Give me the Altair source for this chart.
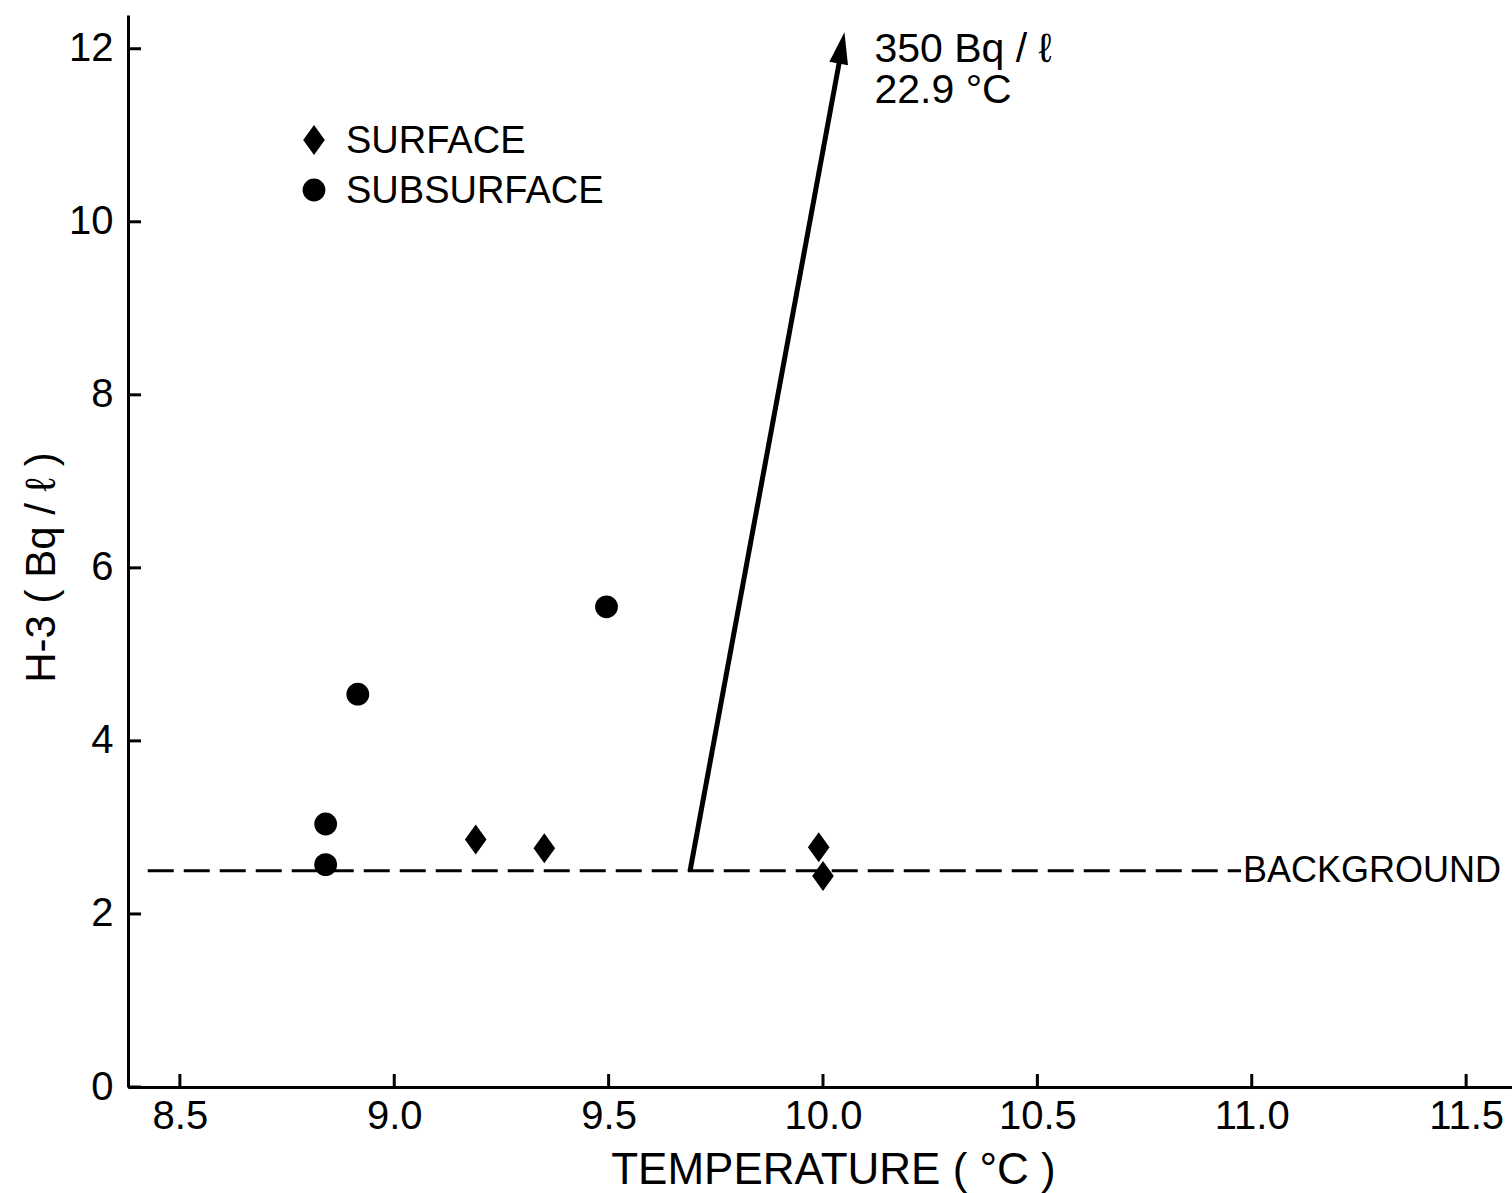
import altair as alt
import pandas as pd

# ---- data ----
surface_temp = [9.19, 9.35, 9.99, 10.0]
surface_h3 = [2.86, 2.76, 2.77, 2.44]
subsurface_temp = [8.84, 8.84, 8.915, 9.495]
subsurface_h3 = [3.04, 2.57, 4.54, 5.55]
background_h3 = 2.5
background_temp = [8.425, 10.975]
background_label = "BACKGROUND"
arrow_temp = [9.69, 10.04, 10.05]   # foot, shaft end, tip
arrow_h3 = [2.5, 11.9, 12.19]
arrow_label = ["350 Bq / ℓ", "22.9 °C"]
arrow_label_temp = [10.12, 10.12]
arrow_label_h3 = [11.85, 11.37]
x_ticks = [8.5, 9.0, 9.5, 10.0, 10.5, 11.0, 11.5]
y_ticks = [0, 2, 4, 6, 8, 10, 12]
legend_labels = ["SURFACE", "SUBSURFACE"]

W, H = 1384, 1072
FONT = "Liberation Sans"
DIAMOND = "M0,-1L0.72,0L0,1L-0.72,0Z"
ARROWHEAD = "M0,0L0.6,2L-0.6,2Z"

xs = alt.Scale(domain=[8.379, 11.607], nice=False, zero=False)
ys = alt.Scale(domain=[0, 12.39], nice=False, zero=False)

xaxis = alt.Axis(values=x_ticks, format=".1f", title="TEMPERATURE  ( °C )", ticks=False, tickSize=0,
                 grid=False, labelPadding=9, labelFontSize=40, labelFont=FONT, labelColor="black",
                 titleFont=FONT, titleFontSize=44, titleFontWeight="normal", titleColor="black",
                 titleX=705, titleY=96, titleBaseline="alphabetic", domainColor="black", domainWidth=3,
                 labelFlush=False, labelOverlap=False)
yaxis = alt.Axis(values=y_ticks, format="d", title="H-3  ( Bq / ℓ )", ticks=False, tickSize=0,
                 grid=False, labelPadding=15, labelFontSize=40, labelFont=FONT, labelColor="black",
                 titleFont=FONT, titleFontSize=42, titleFontWeight="normal", titleColor="black",
                 titleX=-74, titleY=552, titleAngle=270, titleBaseline="alphabetic",
                 domainColor="black", domainWidth=3, labelFlush=False, labelOverlap=False)


def X(f):
    return alt.X(f, type="quantitative", scale=xs, axis=xaxis)


def Y(f):
    return alt.Y(f, type="quantitative", scale=ys, axis=yaxis)


surf = pd.DataFrame({"t": surface_temp, "h": surface_h3})
sub = pd.DataFrame({"t": subsurface_temp, "h": subsurface_h3})
bg = pd.DataFrame({"t": [background_temp[0]], "t2": [background_temp[1]], "h": [background_h3],
                   "lab": [background_label]})
shaft = pd.DataFrame({"t": [arrow_temp[0]], "h": [arrow_h3[0]], "t2": [arrow_temp[1]], "h2": [arrow_h3[1]]})
tip = pd.DataFrame({"t": [arrow_temp[2]], "h": [arrow_h3[2]]})
alab = pd.DataFrame({"t": arrow_label_temp, "h": arrow_label_h3, "lab": arrow_label})
xt = pd.DataFrame({"v": x_ticks})
yt = pd.DataFrame({"v": y_ticks})
leg = pd.DataFrame({"lab": legend_labels})

diamonds = alt.Chart(surf).mark_point(shape=DIAMOND, filled=True, color="black", size=900, opacity=1).encode(
    x=X("t"), y=Y("h"))
circles = alt.Chart(sub).mark_point(shape="circle", filled=True, color="black", size=520, opacity=1).encode(
    x=X("t"), y=Y("h"))

bg_line = alt.Chart(bg).mark_rule(color="black", strokeWidth=3, strokeDash=[26, 10]).encode(
    x=X("t"), x2="t2", y=Y("h"))
bg_text = alt.Chart(bg).mark_text(align="left", baseline="middle", font=FONT, fontSize=36, color="black", dx=2).encode(
    x=alt.X("t2", type="quantitative", scale=xs, axis=xaxis), y=Y("h"), text="lab")

arrow_shaft = alt.Chart(shaft).mark_rule(color="black", strokeWidth=5).encode(
    x=X("t"), x2="t2", y=Y("h"), y2="h2")
arrow_head = alt.Chart(tip).mark_point(shape=ARROWHEAD, filled=True, color="black", size=1000, opacity=1, angle=10.5).encode(
    x=X("t"), y=Y("h"))
arrow_text = alt.Chart(alab).mark_text(align="left", baseline="alphabetic", font=FONT, fontSize=41, color="black").encode(
    x=X("t"), y=Y("h"), text="lab")

x_tick_rules = alt.Chart(xt).mark_rule(color="black", strokeWidth=3).encode(
    x=alt.X("v", type="quantitative", scale=xs, axis=xaxis), y=alt.value(H), y2=alt.value(H - 13))
y_tick_rules = alt.Chart(yt).mark_rule(color="black", strokeWidth=3).encode(
    y=alt.Y("v", type="quantitative", scale=ys, axis=yaxis), x=alt.value(0), x2=alt.value(13))

leg_sym1 = alt.Chart(leg.iloc[[0]]).mark_point(shape=DIAMOND, filled=True, color="black", size=900, opacity=1).encode(
    x=alt.value(186), y=alt.value(125))
leg_sym2 = alt.Chart(leg.iloc[[1]]).mark_point(shape="circle", filled=True, color="black", size=520, opacity=1).encode(
    x=alt.value(186), y=alt.value(175))
leg_txt1 = alt.Chart(leg.iloc[[0]]).mark_text(align="left", baseline="middle", font=FONT, fontSize=38, color="black").encode(
    x=alt.value(218), y=alt.value(127), text="lab")
leg_txt2 = alt.Chart(leg.iloc[[1]]).mark_text(align="left", baseline="middle", font=FONT, fontSize=38, color="black").encode(
    x=alt.value(218), y=alt.value(177), text="lab")

chart = alt.layer(
    bg_line, bg_text, arrow_shaft, arrow_head, arrow_text,
    x_tick_rules, y_tick_rules, diamonds, circles,
    leg_sym1, leg_sym2, leg_txt1, leg_txt2,
).properties(
    width=W, height=H,
    autosize=alt.AutoSizeParams(type="none"),
    padding={"left": 128, "top": 15, "right": 0, "bottom": 106},
    background="white",
).configure_view(stroke=None)

chart.save("out.html", embed_options={"renderer": "svg", "actions": False})
